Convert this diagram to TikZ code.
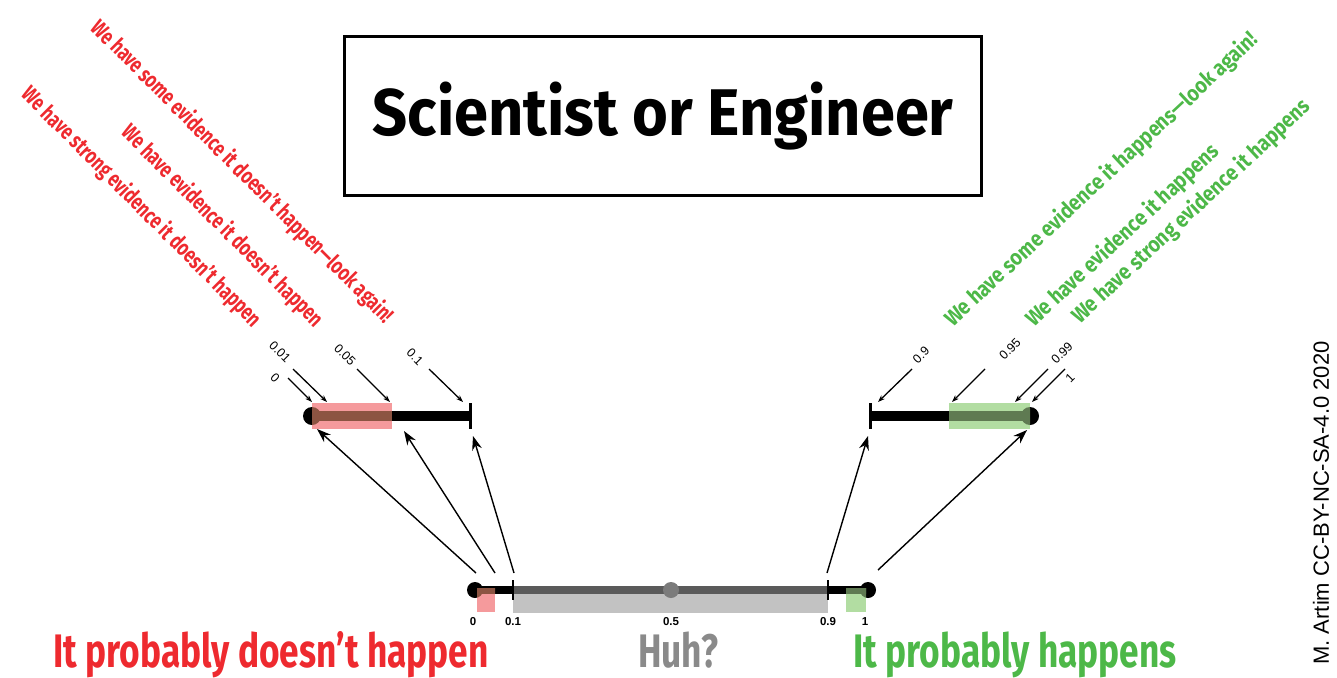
\documentclass[tikz,border=0pt]{standalone}
\usepackage{fontspec}
\setmainfont{Fira Sans}
\setsansfont{Liberation Sans}
\newfontfamily\cond[FakeStretch=0.75]{Fira Sans}
\newfontfamily\condwide[FakeStretch=0.88]{Fira Sans}
\newfontfamily\titlefont[FakeStretch=0.93]{Fira Sans}
\usetikzlibrary{arrows.meta}

\definecolor{nored}{HTML}{EE2A2F}
\definecolor{yesgreen}{HTML}{4DB848}
\definecolor{huhgray}{HTML}{8A8A8A}
\definecolor{pinkbox}{HTML}{F59A9C}
\definecolor{redbar}{HTML}{8C5442}
\definecolor{greenbox}{HTML}{B2DDA2}
\definecolor{greenbar}{HTML}{5F7A52}
\definecolor{graybox}{HTML}{C2C2C2}
\definecolor{graybar}{HTML}{5A5A5A}

\begin{document}
\begin{tikzpicture}[x=1pt,y=-1pt,>=Stealth,
  notag/.style={font=\cond\bfseries\fontsize{22.4}{22.4}\selectfont,nored,rotate=-45,anchor=east},
  yestag/.style={font=\condwide\bfseries\fontsize{22}{22}\selectfont,yesgreen,rotate=43,anchor=west},
  num/.style={font=\sffamily\fontsize{12.5}{12.5}\selectfont},
  bnum/.style={font=\sffamily\bfseries\fontsize{11.5}{11.5}\selectfont},
  big/.style={font=\cond\bfseries\fontsize{47}{47}\selectfont,inner sep=0pt,anchor=base},
  pointer/.style={-{Stealth[length=14pt,width=10pt]},line width=1.4pt},
  smallptr/.style={-{Stealth[length=7pt,width=5pt]},line width=1.3pt}]
\useasboundingbox (0,0) rectangle (1337,677);

\node[draw,line width=2.8pt,minimum width=637pt,minimum height=159pt,
  font=\titlefont\bfseries\fontsize{66}{66}\selectfont] (title) at (663,116) {Scientist or Engineer};

% what the evidence says
\node[notag] (strongno) at (260,326) {We have strong evidence it doesn’t happen};
\node[notag] (evidno) at (322,326) {We have evidence it doesn’t happen};
\node[notag] (someno) at (392,322) {We have some evidence it doesn’t happen—look again!};
\node[yestag] (someyes) at (946,325) {We have some evidence it happens—look again!};
\node[yestag] (evidyes) at (1027,325) {We have evidence it happens};
\node[yestag] (strongyes) at (1073,322) {We have strong evidence it happens};

% zoomed scale near 0
\coordinate (lzero) at (312,416);
\coordinate (lfive) at (392,416);
\coordinate (lten) at (470,416);
\fill (lzero) circle (9pt);
\fill[pinkbox] (312,403) rectangle (392,429);
\begin{scope}
  \clip (312,403) rectangle (392,429);
  \fill[redbar] (lzero) circle (9pt);
\end{scope}
\draw[redbar,line width=10pt] (lzero) -- (lfive);
\draw[line width=10pt] (lfive) -- (lten);
\draw[line width=3pt] (470,403) -- (470,429);

% zoomed scale near 1
\coordinate (rninety) at (870,416);
\coordinate (rfive) at (949,416);
\coordinate (rone) at (1030,416);
\fill (rone) circle (9pt);
\fill[greenbox] (949,403) rectangle (1030,429);
\begin{scope}
  \clip (949,403) rectangle (1030,429);
  \fill[greenbar] (rone) circle (9pt);
\end{scope}
\draw[greenbar,line width=10pt] (rfive) -- (rone);
\draw[line width=10pt] (rninety) -- (rfive);
\draw[line width=3pt] (870,403) -- (870,429);

% tick labels of the zoomed scales
\node[num,rotate=-45] (vzero) at (275,378) {0};
\node[num,rotate=-45] (vone) at (280,352) {0.01};
\node[num,rotate=-45] (vfive) at (345,355) {0.05};
\node[num,rotate=-45] (vten) at (415,357) {0.1};
\node[num,rotate=45] (vninety) at (921,355) {0.9};
\node[num,rotate=45] (vnfive) at (1010,349) {0.95};
\node[num,rotate=45] (vnnine) at (1062,353) {0.99};
\node[num,rotate=45] (vall) at (1070,378) {1};
\coordinate (azero) at (288,378);  \coordinate (tzero) at (312,402);
\coordinate (aone) at (293,369);   \coordinate (tone) at (327,402);
\coordinate (afive) at (357,369);  \coordinate (tfive) at (390,402);
\coordinate (aten) at (429,369);   \coordinate (tten) at (463,402);
\coordinate (aninety) at (912,369); \coordinate (tninety) at (878,402);
\coordinate (anfive) at (985,369); \coordinate (tnfive) at (952,402);
\coordinate (annine) at (1048,369); \coordinate (tnnine) at (1015,402);
\coordinate (aall) at (1065,369);  \coordinate (tall) at (1032,402);
\draw[smallptr] (azero) -- (tzero);
\draw[smallptr] (aone) -- (tone);
\draw[smallptr] (afive) -- (tfive);
\draw[smallptr] (aten) -- (tten);
\draw[smallptr] (aninety) -- (tninety);
\draw[smallptr] (anfive) -- (tnfive);
\draw[smallptr] (annine) -- (tnnine);
\draw[smallptr] (aall) -- (tall);

% the whole scale
\coordinate (bzero) at (475,590);
\coordinate (bten) at (513,590);
\coordinate (bhalf) at (671,590);
\coordinate (bninety) at (828,590);
\coordinate (bone) at (868,590);
\fill (bzero) circle (8pt);
\fill (bone) circle (8pt);
\draw[line width=8pt] (bzero) -- (bone);
\fill[pinkbox] (477,588) rectangle (495,612);
\fill[greenbox] (846,588) rectangle (866,612);
\fill[graybox] (513,588) rectangle (828,613);
\begin{scope}
  \clip (477,588) rectangle (495,612);
  \fill[redbar] (bzero) circle (8pt);
  \draw[redbar,line width=8pt] (bzero) -- (bten);
\end{scope}
\begin{scope}
  \clip (846,588) rectangle (866,612);
  \fill[greenbar] (bone) circle (8pt);
  \draw[greenbar,line width=8pt] (bninety) -- (bone);
\end{scope}
\draw[graybar,line width=8pt] (bten) -- (bninety);
\fill[graybar!80!white] (bhalf) circle (8pt);
\draw[line width=2.5pt] (513,580) -- (513,600);
\draw[line width=2.5pt] (828,580) -- (828,600);
\node[bnum] (nzero) at (473,622) {0};
\node[bnum] (nten) at (513,622) {0.1};
\node[bnum] (nhalf) at (671,622) {0.5};
\node[bnum] (nninety) at (828,622) {0.9};
\node[bnum] (none) at (865,622) {1};

% zoom arrows
\coordinate (fzero) at (476,573);  \coordinate (gzero) at (317,429);
\coordinate (ffive) at (495,573);  \coordinate (gfive) at (404,431);
\coordinate (ften) at (514,573);   \coordinate (gten) at (473,436);
\coordinate (fninety) at (827,573); \coordinate (gninety) at (868,436);
\coordinate (fone) at (878,570);   \coordinate (gone) at (1027,430);
\draw[pointer] (fzero) -- (gzero);
\draw[pointer] (ffive) -- (gfive);
\draw[pointer] (ften) -- (gten);
\draw[pointer] (fninety) -- (gninety);
\draw[pointer] (fone) -- (gone);

\node[big,nored] (nothappen) at (271,667) {It probably doesn’t happen};
\node[big,huhgray] (huh) at (678,667) {Huh?};
\node[big,yesgreen] (happens) at (1015,667) {It probably happens};

\node[rotate=90,font=\sffamily\fontsize{22}{22}\selectfont] (credit) at (1321,503) {M. Artim CC-BY-NC-SA-4.0 2020};
\end{tikzpicture}
\end{document}
